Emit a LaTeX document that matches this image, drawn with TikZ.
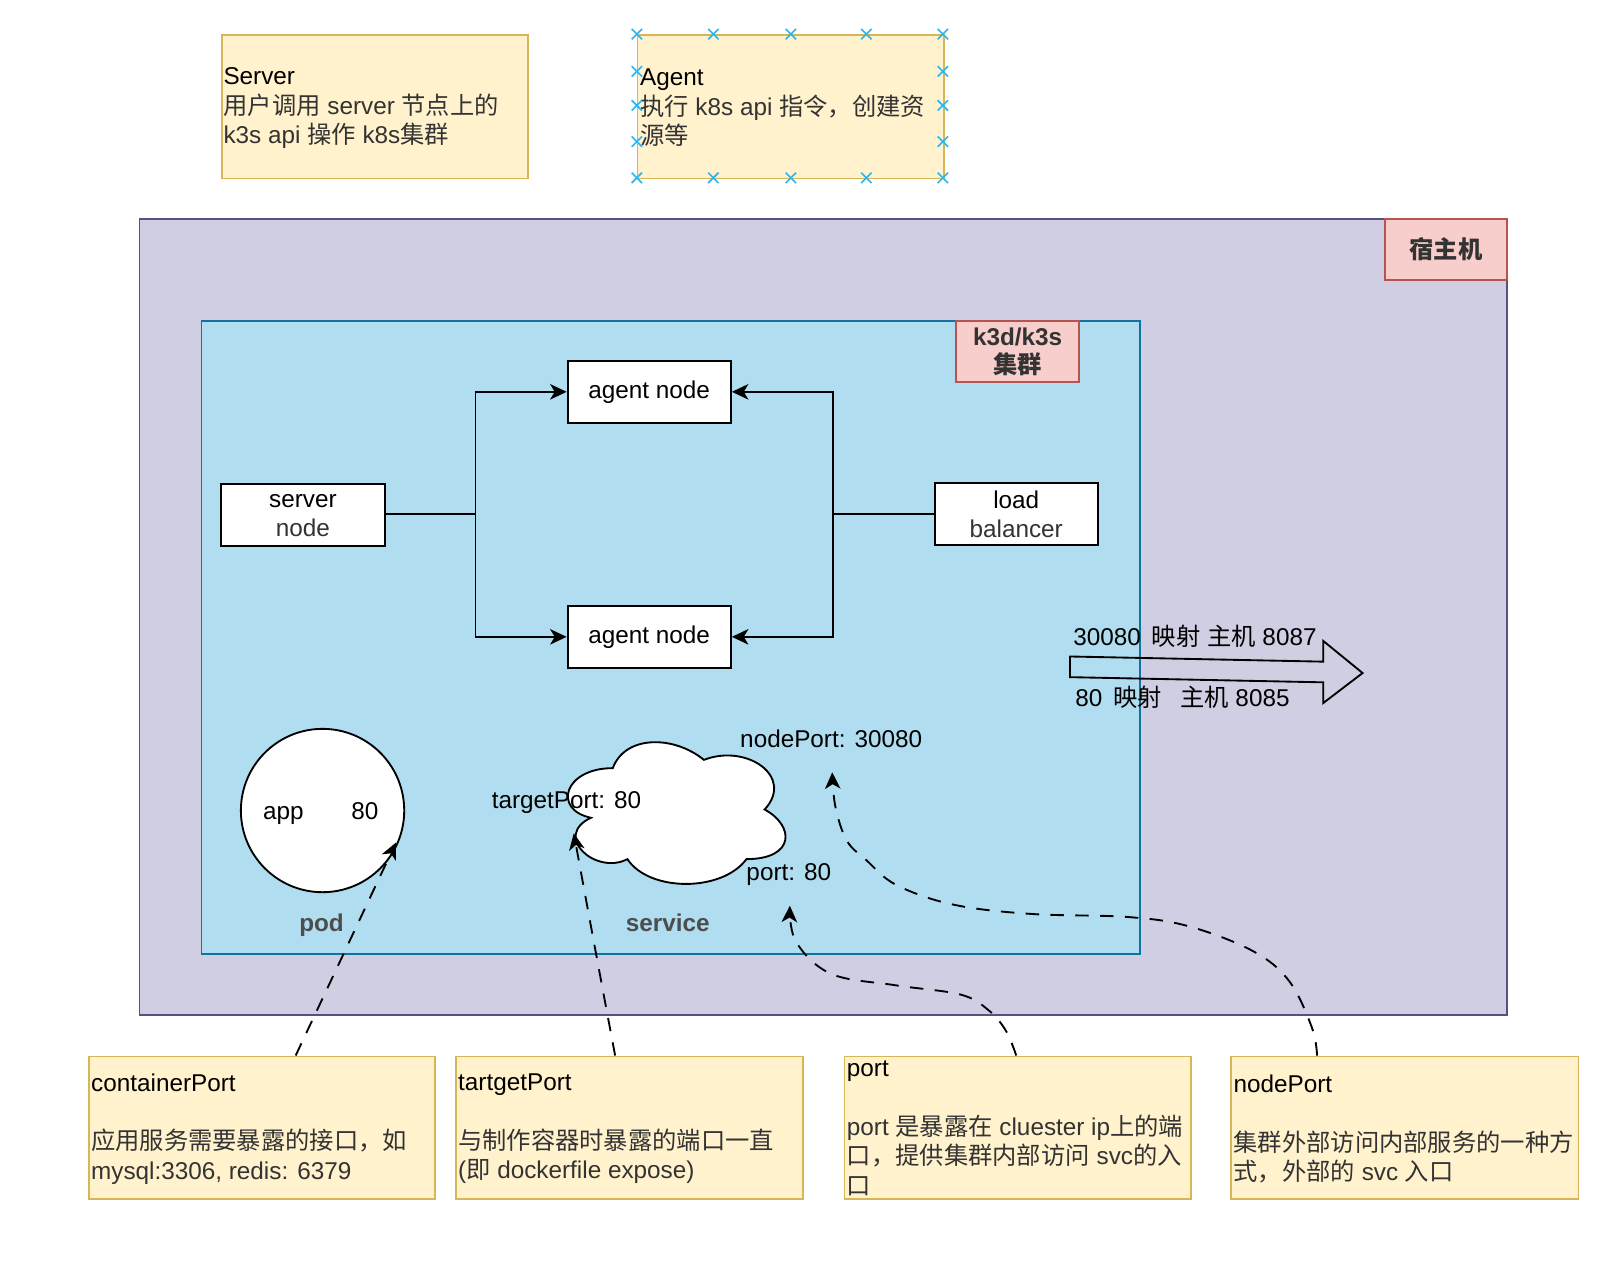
\documentclass[tikz,border=0pt]{standalone}
\usepackage{fontspec}
\setmainfont{Liberation Sans}
\newfontfamily\cjkfont{Noto Sans CJK SC}
\newcommand\zhx[1]{{\cjkfont #1}}
\usetikzlibrary{arrows.meta}
\definecolor{notefill}{HTML}{FFF2CC}
\definecolor{noteborder}{HTML}{D6B656}
\definecolor{hostfill}{HTML}{D0CEE2}
\definecolor{hostborder}{HTML}{56517E}
\definecolor{clufill}{HTML}{B1DDF0}
\definecolor{cluborder}{HTML}{10739E}
\definecolor{redfill}{HTML}{F8CECC}
\definecolor{redborder}{HTML}{B85450}
\definecolor{graytxt}{HTML}{333333}
\definecolor{labeltxt}{HTML}{4D4D4D}
\definecolor{handle}{HTML}{29B6F2}
\newcommand\bodyfont{\fontsize{23.5}{28.5}\selectfont}
\tikzset{
  note/.style={draw=noteborder, fill=notefill, line width=1.6pt, inner sep=0, anchor=north west},
  redlabel/.style={draw=redborder, fill=redfill, line width=1.6pt, inner sep=0, align=center,
     font=\bodyfont\bfseries, text=graytxt, anchor=north west},
  nodebox/.style={draw=black, fill=white, line width=1.8pt, minimum width=158pt, minimum height=60pt,
     inner sep=0, align=center, font=\bodyfont},
  txt/.style={inner sep=0, align=left, anchor=west, font=\bodyfont},
  ctxt/.style={inner sep=0, align=center, font=\bodyfont, text height=0.72em, text depth=0pt, yshift=-5pt},
  conn/.style={line width=1.8pt, -{Stealth[length=16pt, width=15pt, inset=4.5pt]}},
  dashconn/.style={line width=1.8pt, dash pattern=on 13pt off 11pt, -{Stealth[length=16pt, width=15pt, inset=4.5pt]}},
  handlemark/.style={draw=handle, line width=1.6pt},
}
\begin{document}
\begin{tikzpicture}[x=1pt,y=-1pt]
\useasboundingbox (0,0) rectangle (1567,1219);
\fill[white] (0,0) rectangle (1567,1219);

% top notes
\node[note, minimum width=296pt, minimum height=139pt] (servernote) at (214,33) {};
\node[txt] (servertext) at (216,104.5) {Server\\\color{graytxt}\zhx{用户调用} server \zhx{节点上的}\\\color{graytxt}k3s api \zhx{操作} k8s\zhx{集群}};
\node[note, minimum width=296pt, minimum height=139pt] (agentnote) at (616,33) {};
\node[txt] (agenttext) at (619,104.5) {Agent\\\color{graytxt}\zhx{执行} k8s api \zhx{指令，创建资}\\\color{graytxt}\zhx{源等}};
\foreach \hx/\hy in {616/33,690/33,765/33,838/33,912/33,616/172,690/172,765/172,838/172,912/172,
                     616/69,616/102,616/137,912/69,912/102,912/137}
  \draw[handlemark] (\hx-5,\hy-5) -- (\hx+5,\hy+5) (\hx-5,\hy+5) -- (\hx+5,\hy-5);

% host and cluster
\node[draw=hostborder, fill=hostfill, line width=1.6pt, inner sep=0, anchor=north west,
      minimum width=1323pt, minimum height=770pt] (host) at (134,211) {};
\node[redlabel, minimum width=118pt, minimum height=59pt] (hostlabel) at (1339,211) {\zhx{宿主机}};
\node[draw=cluborder, fill=clufill, line width=1.6pt, inner sep=0, anchor=north west,
      minimum width=908pt, minimum height=612pt] (cluster) at (194,310) {};
\node[redlabel, minimum width=119pt, minimum height=59pt, font=\fontsize{23.5}{27}\selectfont\bfseries] (clulabel) at (924,310) {k3d/k3s\\\zhx{集群}};

% nodes
\node[nodebox] (agent1) at (628,379) {agent node};
\node[nodebox] (agent2) at (628,616) {agent node};
\node[nodebox, font=\fontsize{23.5}{28}\selectfont] (server) at (293,498.5) {server\\\color{graytxt}node};
\node[nodebox, font=\fontsize{23.5}{28}\selectfont] (lb) at (983,497.5) {load\\\color{graytxt}balancer};
\coordinate (j1) at (460,497.5);
\coordinate (j2) at (806,497.5);
\draw[line width=1.8pt] (server.east |- j1) -- (j1);
\draw[conn] (j1) |- (agent1.west);
\draw[conn] (j1) |- (agent2.west);
\draw[line width=1.8pt] (lb.west) -- (j2);
\draw[conn] (j2) |- (agent1.east);
\draw[conn] (j2) |- (agent2.east);

% big arrow
\draw[line width=1.8pt, line join=miter] (1035,635) -- (1280,640) -- (1280,620) -- (1318,651) -- (1280,680) -- (1280,660) -- (1035,655) -- cycle;
\node[txt] (maptop) at (1038,615) {30080\hspace{0.45em}\zhx{映射} \zhx{主机} 8087};
\node[txt] (mapbot) at (1040,674) {80\hspace{0.45em}\zhx{映射}\hspace{0.75em}\zhx{主机} 8085};

% pod
\node[circle, draw=black, fill=white, line width=1.8pt, minimum size=158pt, inner sep=0] (pod) at (312,784) {};
\node[ctxt] (apptext) at (274,784) {app};
\node[ctxt] (porttext) at (353,784) {80};
\node[ctxt, font=\bodyfont\bfseries, text=labeltxt] (podlabel) at (311,892) {pod};

% service cloud
\begin{scope}[shift={(534,703)}, x=235pt, y=-160pt]
\draw[line width=1.8pt, fill=white] (0.25,0.25)
  .. controls (0.05,0.25) and (0,0.5) .. (0.16,0.55)
  .. controls (0,0.66) and (0.18,0.9) .. (0.31,0.8)
  .. controls (0.4,1) and (0.7,1) .. (0.8,0.8)
  .. controls (1,0.8) and (1,0.6) .. (0.875,0.5)
  .. controls (1,0.3) and (0.8,0.1) .. (0.625,0.2)
  .. controls (0.5,0.05) and (0.3,0.05) .. (0.25,0.25) -- cycle;
\end{scope}
\node[ctxt] (tplabel) at (548,773) {targetPort: 80};
\node[ctxt] (portlabel) at (763,843) {port: 80};
\node[ctxt] (nplabel) at (804,714) {nodePort: 30080};
\node[ctxt, font=\bodyfont\bfseries, text=labeltxt] (svclabel) at (646,892) {service};

% bottom notes
\node[note, minimum width=335pt, minimum height=138pt] (cpnote) at (85,1021) {};
\node[txt] (cptext) at (88,1092) {containerPort\\[28.5pt]\color{graytxt}\zhx{应用服务需要暴露的接口，如}\\\color{graytxt}mysql:3306, redis: 6379};
\node[note, minimum width=336pt, minimum height=138pt] (tpnote) at (440,1021) {};
\node[txt] (tptext) at (443,1092) {tartgetPort\\[28.5pt]\color{graytxt}\zhx{与制作容器时暴露的端口一直}\\\color{graytxt}(\zhx{即} dockerfile expose)};
\node[note, minimum width=335pt, minimum height=138pt] (ptnote) at (816,1021) {};
\node[txt] (pttext) at (819,1091) {port\\[28.5pt]\color{graytxt}port \zhx{是暴露在} cluester ip\zhx{上的端}\\\color{graytxt}\zhx{口，提供集群内部访问} svc\zhx{的入}\\\color{graytxt}\zhx{口}};
\node[note, minimum width=336pt, minimum height=138pt] (npnote) at (1190,1021) {};
\node[txt] (nptext) at (1193,1092) {nodePort\\[28.5pt]\color{graytxt}\zhx{集群外部访问内部服务的一种方}\\\color{graytxt}\zhx{式，外部的} svc \zhx{入口}};

% dashed connectors
\coordinate (cpS) at (286,1021);
\coordinate (cpT) at (383,815);
\coordinate (tpS) at (595,1021);
\coordinate (tpT) at (555,806);
\coordinate (ptS) at (983,1021);
\coordinate (ptT) at (764,876);
\coordinate (npS) at (1274,1021);
\coordinate (npT) at (805,747);
\draw[dashconn] (cpS) -- (cpT);
\draw[dashconn] plot[smooth, tension=0.6] coordinates {(tpS) (577,925) (tpT)};
\draw[dashconn] plot[smooth, tension=0.6] coordinates {(ptS) (973,997) (956,977) (929,962) (866,953) (804,942) (770,911) (ptT)};
\draw[dashconn] plot[smooth, tension=0.6] coordinates {(npS) (1269,994) (1247,949) (1212,920) (1150,896) (1091,887) (997,884) (922,875) (867,856) (838,832) (819,813) (808,780) (npT)};
\end{tikzpicture}
\end{document}
